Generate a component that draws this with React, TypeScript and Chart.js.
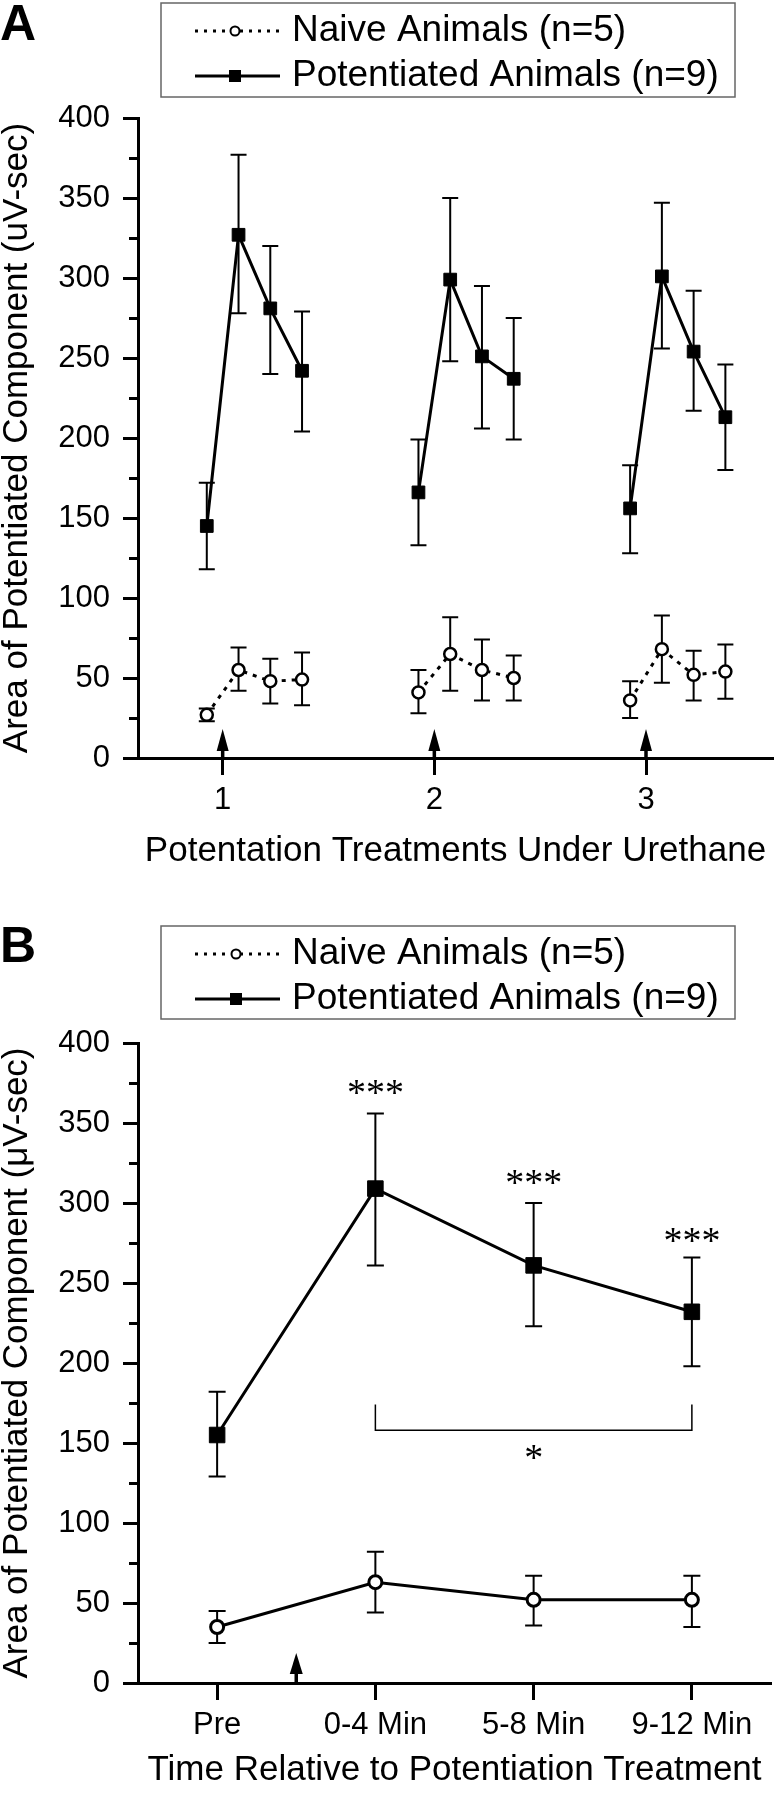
import React, { useEffect, useRef } from 'react';
import { Chart, registerables } from 'chart.js';

Chart.register(...registerables);

const SANS = "'Liberation Sans', Arial, Helvetica, sans-serif";
const SERIF = "'Liberation Serif', 'Times New Roman', serif";

// ---------- shared ----------
const seriesLabels = ['Naive Animals (n=5)', 'Potentiated Animals (n=9)'];
const yMajorTicks = [0, 50, 100, 150, 200, 250, 300, 350, 400];
const yMinorTicks = [25, 75, 125, 175, 225, 275, 325, 375];

// ---------- panel A ----------
const aTitleX = 'Potentation Treatments Under Urethane';
const aTitleY = 'Area of Potentiated Component (uV-sec)';
const aTreatmentTicks = [1, 2, 3];
const aTreatmentLabels = ['1', '2', '3'];
const aPointX = [
  [0.925, 1.075, 1.225, 1.375],
  [1.925, 2.075, 2.225, 2.375],
  [2.925, 3.075, 3.225, 3.375],
];
const aPotMean = [
  [145, 327, 281, 242],
  [166, 299, 251, 237],
  [156, 301, 254, 213],
];
const aPotUpper = [
  [172, 377, 320, 279],
  [199, 350, 295, 275],
  [183, 347, 292, 246],
];
const aPotLower = [
  [118, 278, 240, 204],
  [133, 248, 206, 199],
  [128, 256, 217, 180],
];
const aNaiveMean = [
  [27, 55, 48, 49],
  [41, 65, 55, 50],
  [36, 68, 52, 54],
];
const aNaiveUpper = [
  [31, 69, 62, 66],
  [55, 88, 74, 64],
  [48, 89, 67, 71],
];
const aNaiveLower = [
  [23, 42, 34, 33],
  [28, 42, 36, 36],
  [25, 47, 36, 37],
];
const aArrowX = [1, 2, 3];

// ---------- panel B ----------
const bTitleX = 'Time Relative to Potentiation Treatment';
const bTitleY = 'Area of Potentiated Component (\u03BCV-sec)';
const bTicks = [0, 1, 2, 3];
const bTickLabels = ['Pre', '0-4 Min', '5-8 Min', '9-12 Min'];
const bPotMean = [155, 309, 261, 232];
const bPotUpper = [182, 356, 300, 266];
const bPotLower = [129, 261, 223, 198];
const bNaiveMean = [35, 63, 52, 52];
const bNaiveUpper = [45, 82, 67, 67];
const bNaiveLower = [25, 44, 36, 35];
const bArrowX = [0.5];
const bStarText = ['***', '***', '***'];
const bStarX = [1, 2, 3];
const bStarY = [372, 316, 280];
const bBracketX = [1, 3];
const bBracketY = [174, 158];
const bBracketText = ['*'];
const bBracketTextX = [2];
const bBracketTextY = [144];

// ---------- plugins ----------
const errorBarsPlugin = {
  id: 'errorBars',
  beforeDatasetsDraw(chart: any, _a: any, opts: any) {
    const { ctx } = chart;
    const xs = chart.scales.x;
    const ys = chart.scales.y;
    const cap = opts.capHalf ?? 8;
    ctx.save();
    ctx.strokeStyle = '#000';
    ctx.lineWidth = opts.lineWidth ?? 2;
    ctx.setLineDash([]);
    chart.data.datasets.forEach((ds: any) => {
      if (!ds.errUpper) return;
      ds.data.forEach((p: any, i: number) => {
        const px = xs.getPixelForValue(p.x);
        const pu = ys.getPixelForValue(ds.errUpper[i]);
        const pl = ys.getPixelForValue(ds.errLower[i]);
        ctx.beginPath();
        ctx.moveTo(px, pu);
        ctx.lineTo(px, pl);
        ctx.moveTo(px - cap, pu);
        ctx.lineTo(px + cap, pu);
        ctx.moveTo(px - cap, pl);
        ctx.lineTo(px + cap, pl);
        ctx.stroke();
      });
    });
    ctx.restore();
  },
};

const axisExtrasPlugin = {
  id: 'axisExtras',
  afterDraw(chart: any, _a: any, opts: any) {
    const { ctx, chartArea } = chart;
    const xs = chart.scales.x;
    const ys = chart.scales.y;
    ctx.save();
    ctx.strokeStyle = '#000';
    ctx.fillStyle = '#000';
    ctx.lineWidth = 3;
    ctx.setLineDash([]);
    (opts.minorTicks || []).forEach((v: number) => {
      const py = Math.round(ys.getPixelForValue(v)) + 0.5;
      ctx.beginPath();
      ctx.moveTo(chartArea.left - opts.minorLen, py);
      ctx.lineTo(chartArea.left, py);
      ctx.stroke();
    });
    (opts.arrows || []).forEach((v: number) => {
      const px = xs.getPixelForValue(v);
      const base = ys.getPixelForValue(0);
      const tip = base - opts.arrowLen;
      const headBase = tip + opts.headLen;
      ctx.lineWidth = 3.5;
      ctx.beginPath();
      ctx.moveTo(px, base);
      ctx.lineTo(px, headBase - 1);
      ctx.stroke();
      ctx.beginPath();
      ctx.moveTo(px, tip);
      ctx.lineTo(px + opts.headHalf, headBase);
      ctx.lineTo(px - opts.headHalf, headBase);
      ctx.closePath();
      ctx.fill();
    });
    ctx.restore();
  },
};

const panelDecorPlugin = {
  id: 'panelDecor',
  afterDraw(chart: any, _a: any, opts: any) {
    const { ctx } = chart;
    ctx.save();
    // panel letter
    ctx.fillStyle = '#000';
    ctx.font = `bold 50px ${SANS}`;
    ctx.textAlign = 'left';
    ctx.textBaseline = 'alphabetic';
    ctx.fillText(opts.letter, opts.letterX, opts.letterBaseline);
    // legend box
    const b = opts.box;
    ctx.strokeStyle = '#666';
    ctx.lineWidth = 1.5;
    ctx.strokeRect(b.l, b.t, b.r - b.l, b.b - b.t);
    // legend entries (one per series label)
    const seen: string[] = [];
    const entries: any[] = [];
    chart.data.datasets.forEach((ds: any) => {
      if (!seen.includes(ds.label)) {
        seen.push(ds.label);
        entries.push(ds);
      }
    });
    entries.forEach((ds: any, i: number) => {
      const yy = opts.rows[i];
      ctx.strokeStyle = '#000';
      ctx.lineWidth = 3;
      ctx.setLineDash(ds.pointStyle === 'rect' ? [] : opts.legendDash);
      ctx.beginPath();
      ctx.moveTo(opts.sampleL, yy);
      ctx.lineTo(opts.sampleR, yy);
      ctx.stroke();
      ctx.setLineDash([]);
      const cx = opts.markerX;
      if (ds.pointStyle === 'rect') {
        ctx.fillStyle = '#000';
        ctx.fillRect(cx - opts.square / 2, yy - opts.square / 2, opts.square, opts.square);
      } else {
        ctx.fillStyle = '#fff';
        ctx.lineWidth = 2;
        ctx.beginPath();
        ctx.arc(cx, yy, opts.circle, 0, Math.PI * 2);
        ctx.fill();
        ctx.stroke();
      }
      ctx.fillStyle = '#000';
      ctx.font = `37px ${SANS}`;
      ctx.textAlign = 'left';
      ctx.textBaseline = 'middle';
      ctx.fillText(ds.label, opts.textX, yy);
    });
    ctx.restore();
  },
};

function drawCentered(ctx: any, text: string, x: number, y: number) {
  const m = ctx.measureText(text);
  const w = m.actualBoundingBoxLeft + m.actualBoundingBoxRight;
  const h = m.actualBoundingBoxAscent + m.actualBoundingBoxDescent;
  ctx.fillText(text, x - w / 2 + m.actualBoundingBoxLeft, y - h / 2 + m.actualBoundingBoxAscent);
}

const sigMarksPlugin = {
  id: 'sigMarks',
  afterDatasetsDraw(chart: any, _a: any, opts: any) {
    if (!opts.stars) return;
    const { ctx } = chart;
    const xs = chart.scales.x;
    const ys = chart.scales.y;
    ctx.save();
    ctx.fillStyle = '#000';
    ctx.strokeStyle = '#000';
    ctx.font = `38px ${SERIF}`;
    ctx.textAlign = 'left';
    ctx.textBaseline = 'alphabetic';
    opts.stars.forEach((t: string, i: number) => {
      drawCentered(ctx, t, xs.getPixelForValue(opts.starX[i]), ys.getPixelForValue(opts.starY[i]));
    });
    const x1 = xs.getPixelForValue(opts.bracketX[0]);
    const x2 = xs.getPixelForValue(opts.bracketX[1]);
    const yTop = ys.getPixelForValue(opts.bracketY[0]);
    const yBar = ys.getPixelForValue(opts.bracketY[1]);
    ctx.lineWidth = 1.5;
    ctx.beginPath();
    ctx.moveTo(x1, yTop);
    ctx.lineTo(x1, yBar);
    ctx.lineTo(x2, yBar);
    ctx.lineTo(x2, yTop);
    ctx.stroke();
    opts.bracketText.forEach((t: string, i: number) => {
      drawCentered(ctx, t, xs.getPixelForValue(opts.bracketTextX[i]), ys.getPixelForValue(opts.bracketTextY[i]));
    });
    ctx.restore();
  },
};

// ---------- config builders ----------
function scalesConfig(p: any) {
  return {
    x: {
      type: 'linear',
      min: p.xMin,
      max: p.xMax,
      afterBuildTicks: (s: any) => {
        s.ticks = p.xTicks.map((v: number) => ({ value: v }));
      },
      afterFit: (s: any) => {
        s.height = p.xHeight;
      },
      ticks: {
        autoSkip: false,
        maxRotation: 0,
        color: '#000',
        padding: 7,
        font: { family: SANS, size: 31 },
        callback: (v: number) => {
          const i = p.xTicks.indexOf(v);
          return i >= 0 ? p.xLabels[i] : '';
        },
      },
      grid: {
        display: true,
        drawOnChartArea: false,
        drawTicks: true,
        tickLength: 17,
        tickWidth: 3,
        tickColor: '#000',
      },
      border: { display: true, color: '#000', width: 3 },
      title: {
        display: true,
        text: p.titleX,
        color: '#000',
        font: { family: SANS, size: 35, lineHeight: 1.2 },
        padding: { top: 0, bottom: p.xTitlePad },
      },
    },
    y: {
      type: 'linear',
      min: 0,
      max: 400,
      afterBuildTicks: (s: any) => {
        s.ticks = yMajorTicks.map((v) => ({ value: v }));
      },
      afterFit: (s: any) => {
        s.width = 138;
      },
      ticks: {
        color: '#000',
        padding: 13,
        font: { family: SANS, size: 31 },
        callback: (v: number) => String(v),
      },
      grid: {
        display: true,
        drawOnChartArea: false,
        drawTicks: true,
        tickLength: 15,
        tickWidth: 3,
        tickColor: '#000',
      },
      border: { display: true, color: '#000', width: 3 },
      title: {
        display: true,
        text: p.titleY,
        color: '#000',
        font: { family: SANS, size: 35, lineHeight: 1 },
        padding: { top: 0, bottom: 0 },
      },
    },
  };
}

function configA() {
  const datasets: any[] = [];
  aPointX.forEach((xs, g) => {
    datasets.push({
      label: seriesLabels[0],
      data: xs.map((x, i) => ({ x, y: aNaiveMean[g][i] })),
      errUpper: aNaiveUpper[g],
      errLower: aNaiveLower[g],
      borderColor: '#000',
      borderWidth: 3,
      borderDash: [4, 6],
      pointStyle: 'circle',
      pointRadius: 6,
      pointBorderWidth: 2.5,
      pointBackgroundColor: '#fff',
      pointBorderColor: '#000',
      tension: 0,
      fill: false,
    });
    datasets.push({
      label: seriesLabels[1],
      data: xs.map((x, i) => ({ x, y: aPotMean[g][i] })),
      errUpper: aPotUpper[g],
      errLower: aPotLower[g],
      borderColor: '#000',
      borderWidth: 3,
      pointStyle: 'rect',
      pointRadius: 9,
      pointBorderWidth: 1,
      pointBackgroundColor: '#000',
      pointBorderColor: '#000',
      tension: 0,
      fill: false,
    });
  });
  return {
    type: 'line',
    data: { datasets },
    plugins: [errorBarsPlugin, axisExtrasPlugin, panelDecorPlugin, sigMarksPlugin],
    options: {
      responsive: false,
      animation: false,
      events: [],
      layout: { padding: { left: 0, right: 3, top: 118, bottom: 0 } },
      plugins: {
        legend: { display: false },
        tooltip: { enabled: false },
        errorBars: { capHalf: 8, lineWidth: 2 },
        axisExtras: { minorTicks: yMinorTicks, minorLen: 9, arrows: aArrowX, arrowLen: 29, headLen: 22, headHalf: 6 },
        panelDecor: {
          letter: 'A', letterX: 0, letterBaseline: 40,
          box: { l: 161, t: 3, r: 735, b: 97 },
          rows: [31, 76], sampleL: 195, sampleR: 280, markerX: 235,
          square: 12, circle: 4.5, textX: 292, legendDash: [3, 6],
        },
        sigMarks: {},
      },
      scales: scalesConfig({
        xMin: 0.6, xMax: 3.6, xTicks: aTreatmentTicks, xLabels: aTreatmentLabels,
        xHeight: 122, xTitlePad: 8, titleX: aTitleX, titleY: aTitleY,
      }),
    },
  };
}

function configB() {
  const datasets: any[] = [
    {
      label: seriesLabels[0],
      data: bTicks.map((x, i) => ({ x, y: bNaiveMean[i] })),
      errUpper: bNaiveUpper,
      errLower: bNaiveLower,
      borderColor: '#000',
      borderWidth: 3,
      pointStyle: 'circle',
      pointRadius: 6.5,
      pointBorderWidth: 3,
      pointBackgroundColor: '#fff',
      pointBorderColor: '#000',
      tension: 0,
      fill: false,
    },
    {
      label: seriesLabels[1],
      data: bTicks.map((x, i) => ({ x, y: bPotMean[i] })),
      errUpper: bPotUpper,
      errLower: bPotLower,
      borderColor: '#000',
      borderWidth: 3,
      pointStyle: 'rect',
      pointRadius: 11,
      pointBorderWidth: 1,
      pointBackgroundColor: '#000',
      pointBorderColor: '#000',
      tension: 0,
      fill: false,
    },
  ];
  return {
    type: 'line',
    data: { datasets },
    plugins: [errorBarsPlugin, axisExtrasPlugin, panelDecorPlugin, sigMarksPlugin],
    options: {
      responsive: false,
      animation: false,
      events: [],
      layout: { padding: { left: 0, right: 3, top: 163, bottom: 0 } },
      plugins: {
        legend: { display: false },
        tooltip: { enabled: false },
        errorBars: { capHalf: 8.5, lineWidth: 2 },
        axisExtras: { minorTicks: yMinorTicks, minorLen: 9, arrows: bArrowX, arrowLen: 30, headLen: 21, headHalf: 6.5 },
        panelDecor: {
          letter: 'B', letterX: 0, letterBaseline: 82,
          box: { l: 161, t: 46, r: 735, b: 139 },
          rows: [74, 119], sampleL: 195, sampleR: 280, markerX: 236,
          square: 12, circle: 4.5, textX: 292, legendDash: [3, 6],
        },
        sigMarks: {
          stars: bStarText, starX: bStarX, starY: bStarY,
          bracketX: bBracketX, bracketY: bBracketY,
          bracketText: bBracketText, bracketTextX: bBracketTextX, bracketTextY: bBracketTextY,
        },
      },
      scales: scalesConfig({
        xMin: -0.5, xMax: 3.5, xTicks: bTicks, xLabels: bTickLabels,
        xHeight: 117, xTitlePad: 9, titleX: bTitleX, titleY: bTitleY,
      }),
    },
  };
}

function ChartCanvas({ make, width, height }: { make: () => any; width: number; height: number }) {
  const ref = useRef<HTMLCanvasElement | null>(null);
  useEffect(() => {
    if (!ref.current) return;
    const chart = new Chart(ref.current, make());
    return () => chart.destroy();
  }, [make]);
  return <canvas ref={ref} width={width} height={height} style={{ display: 'block', width, height }} />;
}

export default function App() {
  return (
    <div style={{ position: 'absolute', left: 0, top: 0, width: 783, height: 1800, background: '#fff' }}>
      <ChartCanvas make={configA} width={783} height={880} />
      <ChartCanvas make={configB} width={783} height={920} />
    </div>
  );
}
